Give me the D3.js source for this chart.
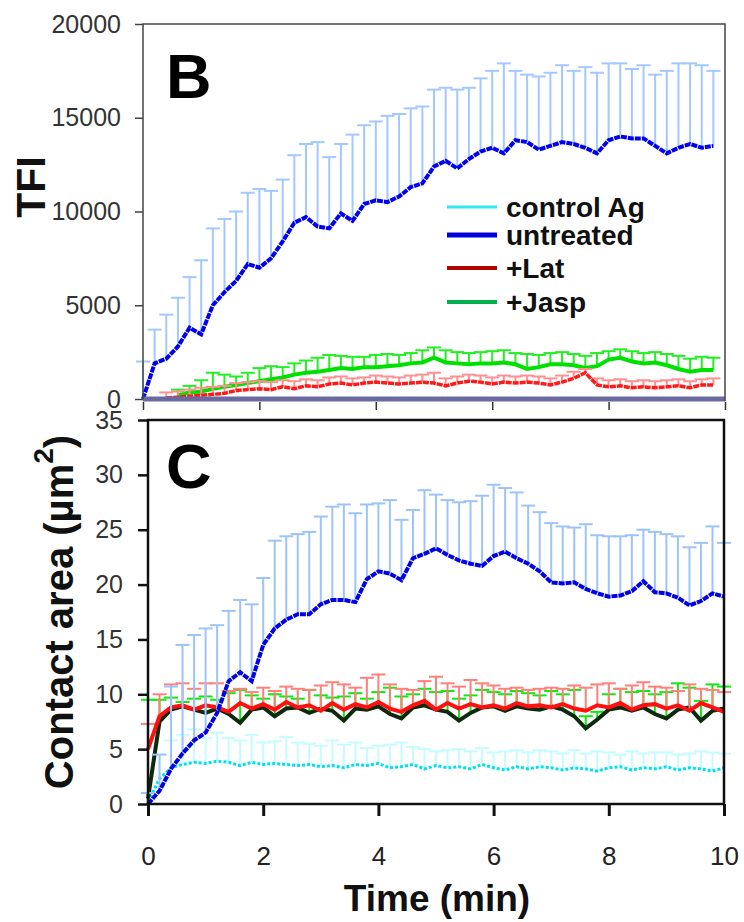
<!DOCTYPE html>
<html>
<head>
<meta charset="utf-8">
<script src="https://cdn.jsdelivr.net/npm/d3@7"></script>
<style>
body { margin: 0; background: #fff; }
text { font-family: "Liberation Sans", Arial, sans-serif; }
</style>
</head>
<body>
<script>
// time points (min), every 0.2 min
const times = [0, 0.2, 0.4, 0.6, 0.8, 1.0, 1.2, 1.4, 1.6, 1.8, 2.0, 2.2, 2.4, 2.6, 2.8, 3.0, 3.2, 3.4, 3.6, 3.8,
    4.0, 4.2, 4.4, 4.6, 4.8, 5.0, 5.2, 5.4, 5.6, 5.8, 6.0, 6.2, 6.4, 6.6, 6.8, 7.0, 7.2, 7.4, 7.6, 7.8,
    8.0, 8.2, 8.4, 8.6, 8.8, 9.0, 9.2, 9.4, 9.6, 9.8, 10.0]
const xTicks = [0, 2, 4, 6, 8, 10]
const tfiTicks = [0, 5000, 10000, 15000, 20000]
const areaTicks = [0, 5, 10, 15, 20, 25, 30, 35]
const legendNames = ["control Ag", "untreated", "+Lat", "+Jasp"]

// panel B : TFI (mean and mean + SD)
const tfiUntreated = [0, 1900, 2150, 2800, 3800, 3450, 5000, 5700, 6300, 7200, 7000, 7500, 8400, 9400, 9700, 9200, 9100, 9900, 9500, 10400,
    10600, 10500, 10800, 11300, 11500, 12400, 12700, 12300, 12800, 13200, 13400, 13100, 13800, 13700, 13300, 13500, 13700, 13600, 13400, 13100,
    13800, 14000, 13900, 13900, 13500, 13100, 13400, 13600, 13400, 13500]
const tfiUntreatedUp = [2000, 3700, 4500, 5400, 6500, 7400, 9100, 9600, 10000, 11000, 11200, 11100, 11700, 13000, 13600, 13700, 12900, 13600, 14100, 14600,
    14800, 15100, 15200, 15500, 15600, 16500, 16600, 16500, 16600, 17100, 17500, 17900, 17500, 17300, 17200, 17400, 17800, 17500, 17700, 17400,
    17900, 17900, 17600, 17800, 17300, 17500, 17900, 17900, 17800, 17500]
const tfiJasp = [null, null, null, 200, 350, 400, 550, 650, 750, 850, 950, 1050, 1150, 1300, 1400, 1450, 1550, 1650, 1600, 1700,
    1700, 1750, 1800, 1900, 1950, 2200, 1950, 1900, 1850, 1900, 1900, 1950, 1850, 1600, 1700, 1850, 1850, 1800, 1650, 1750,
    2100, 2200, 2000, 1900, 1950, 1800, 1600, 1450, 1550, 1550]
const tfiJaspUp = [null, null, null, 500, 700, 1000, 1400, 1300, 1200, 1400, 1650, 1750, 1700, 1900, 2050, 2200, 2350, 2300, 2250, 2250,
    2350, 2400, 2350, 2450, 2600, 2750, 2600, 2500, 2450, 2500, 2550, 2600, 2450, 2400, 2350, 2450, 2500, 2400, 2300, 2450,
    2550, 2650, 2550, 2450, 2500, 2400, 2300, 2150, 2250, 2200]
const tfiLat = [null, null, 50, 100, 150, 200, 250, 300, 450, 500, 550, 500, 650, 550, 700, 650, 800, 850, 750, 850,
    900, 850, 800, 850, 900, 850, 700, 850, 950, 900, 800, 900, 850, 900, 850, 750, 900, 1100, 1400, 750,
    650, 700, 600, 650, 600, 650, 700, 600, 750, 750]
const tfiLatUp = [null, null, 350, 400, 500, 600, 650, 700, 850, 900, 950, 900, 1000, 950, 1050, 1000, 1150, 1200, 1100, 1150,
    1250, 1200, 1150, 1250, 1300, 1400, 1100, 1200, 1300, 1250, 1150, 1250, 1200, 1250, 1200, 1100, 1250, 1450, 1600, 1100,
    1000, 1050, 950, 1000, 950, 1000, 1050, 950, 1050, 1100]
const tfiControl = [0, 0, 0, 0, 0, 0, 0, 0, 0, 0, 0, 0, 0, 0, 0, 0, 0, 0, 0, 0, 0, 0, 0, 0, 0, 0,
    0, 0, 0, 0, 0, 0, 0, 0, 0, 0, 0, 0, 0, 0, 0, 0, 0, 0, 0, 0, 0, 0, 0, 0, 0]

// panel C : contact area (mean and mean + SD)
const areaUntreated = [0, 1.2, 3.2, 4.6, 5.8, 6.5, 8.3, 11.2, 12.0, 11.2, 14.5, 16.0, 16.8, 17.3, 17.3, 18.2, 18.6, 18.6, 18.4, 20.5,
    21.2, 21.0, 20.4, 22.4, 22.8, 23.3, 22.7, 22.2, 21.9, 21.7, 22.6, 23.0, 22.4, 21.9, 21.2, 20.2, 20.1, 20.2, 19.6, 19.2,
    18.9, 19.0, 19.4, 20.3, 19.3, 19.2, 18.8, 18.1, 18.5, 19.2, 18.9]
const areaUntreatedUp = [1.0, 4.5, 10.7, 14.5, 15.4, 16.0, 16.3, 17.6, 18.6, 18.2, 20.6, 24.0, 24.4, 24.6, 24.8, 26.2, 27.1, 27.3, 26.5, 27.3,
    27.4, 27.7, 25.9, 26.8, 28.6, 28.2, 27.7, 27.5, 27.6, 28.1, 29.1, 28.8, 28.4, 27.2, 26.6, 25.6, 25.3, 25.2, 25.5, 24.5,
    24.4, 24.4, 24.5, 25.0, 24.8, 24.6, 24.4, 23.4, 23.8, 25.3, 23.8]
const areaLat = [5.0, 8.0, 8.8, 9.0, 8.6, 9.0, 8.8, 8.4, 9.2, 8.7, 9.1, 8.6, 9.3, 8.8, 9.0, 8.5, 9.2, 8.6, 9.1, 8.8,
    9.3, 8.7, 8.4, 9.0, 9.4, 8.6, 9.2, 8.7, 9.1, 8.8, 9.0, 8.7, 9.2, 8.9, 9.0, 8.8, 9.1, 8.7, 8.5, 9.0,
    8.8, 9.2, 8.6, 9.0, 9.1, 8.7, 9.0, 8.5, 9.2, 8.8, 8.4]
const areaLatUp = [7.3, 10.0, 10.9, 11.0, 10.5, 11.0, 11.0, 10.3, 10.5, 10.2, 10.6, 10.3, 10.7, 10.5, 10.4, 10.8, 11.1, 10.9, 10.6, 11.5,
    11.8, 10.9, 10.5, 10.4, 11.2, 11.6, 11.0, 10.7, 11.3, 11.0, 10.8, 10.5, 10.6, 10.4, 10.5, 10.6, 10.5, 10.8, 10.6, 10.9,
    11.0, 10.5, 10.8, 11.1, 10.7, 10.6, 10.3, 10.9, 10.5, 10.4, 10.2]
const areaJasp = [0.5, 7.5, 8.6, 8.9, 8.6, 8.3, 8.7, 8.2, 7.4, 8.6, 8.8, 8.0, 8.7, 8.8, 8.3, 8.7, 8.5, 7.6, 8.7, 8.6,
    8.9, 8.2, 7.8, 8.8, 9.0, 8.6, 8.4, 7.6, 8.3, 8.8, 8.9, 8.5, 8.9, 8.7, 8.6, 8.9, 8.6, 8.0, 6.9, 7.7,
    8.6, 8.8, 8.5, 8.8, 8.2, 7.8, 8.6, 8.8, 7.6, 8.5, 8.7]
const areaJaspUp = [9.5, 9.5, 9.7, 9.3, 9.6, 9.8, 9.5, 10.1, 10.4, 9.9, 9.6, 10.0, 9.8, 9.6, 10.4, 9.9, 9.7, 9.8, 10.1, 9.6,
    10.2, 10.6, 9.8, 10.0, 10.5, 10.2, 10.3, 9.6, 9.9, 10.4, 10.2, 10.0, 10.3, 10.1, 9.9, 10.3, 10.0, 10.4, 8.0, 8.4,
    10.0, 10.5, 10.2, 10.3, 10.0, 10.2, 11.0, 10.6, 9.4, 10.9, 10.7]
const areaControl = [0.2, 2.3, 3.3, 3.6, 3.8, 3.7, 3.9, 3.8, 3.5, 3.8, 3.6, 3.7, 3.6, 3.5, 3.6, 3.4, 3.5, 3.3, 3.6, 3.5,
    3.7, 3.3, 3.4, 3.6, 3.2, 3.5, 3.3, 3.4, 3.2, 3.6, 3.3, 3.1, 3.4, 3.2, 3.4, 3.3, 3.1, 3.3, 3.2, 3.0,
    3.3, 3.4, 3.1, 3.3, 3.2, 3.4, 3.1, 3.3, 3.2, 3.0, 3.3]
const areaControlUp = [1.0, 4.5, 5.8, 6.3, 6.8, 6.0, 6.5, 6.0, 5.8, 6.3, 5.6, 5.7, 6.1, 5.6, 5.5, 5.3, 5.8, 5.4, 5.6, 5.1,
    5.3, 5.4, 5.6, 5.2, 5.0, 4.8, 4.9, 5.0, 4.8, 5.1, 4.7, 4.8, 4.9, 4.7, 4.9, 4.8, 4.6, 4.9, 4.6, 4.8,
    4.7, 4.5, 4.8, 4.6, 4.7, 4.7, 4.5, 4.6, 4.8, 4.7, 4.6]

const W = 744, H = 922
const svg = d3.select("body").append("svg")
    .attr("width", W)
    .attr("height", H)

// scales
const xB = d3.scaleLinear().domain([0, 10]).range([143, 725])
const yB = d3.scaleLinear().domain([0, 20000]).range([399, 24])
const xC = d3.scaleLinear().domain([0, 10]).range([148, 724])
const yC = d3.scaleLinear().domain([0, 35]).range([804, 420])

function pairs(mean, up) {
    return times.map((t, i) => ({t: t, m: mean[i], u: up ? up[i] : null}))
        .filter((d, i) => i < mean.length)
}

function drawBars(g, x, y, mean, up, color, cap) {
    const data = pairs(mean, up).filter(d => d.m != null && d.u != null)
    g.append("g").selectAll("line.stem")
        .data(data).enter().append("line")
        .attr("x1", d => x(d.t)).attr("x2", d => x(d.t))
        .attr("y1", d => y(d.m)).attr("y2", d => y(d.u))
        .attr("stroke", color).attr("stroke-width", 2)
    g.append("g").selectAll("line.cap")
        .data(data).enter().append("line")
        .attr("x1", d => x(d.t) - cap).attr("x2", d => x(d.t) + cap)
        .attr("y1", d => y(d.u)).attr("y2", d => y(d.u))
        .attr("stroke", color).attr("stroke-width", 2)
}

function drawMean(g, x, y, mean, color, width, dash) {
    const line = d3.line()
        .defined(d => d.m != null)
        .x(d => x(d.t)).y(d => y(d.m))
    g.append("path")
        .datum(pairs(mean))
        .attr("d", line)
        .attr("fill", "none")
        .attr("stroke", color)
        .attr("stroke-width", width)
        .attr("stroke-dasharray", dash)
}

// ---------- panel B ----------
const gB = svg.append("g")
drawBars(gB, xB, yB, tfiUntreated, tfiUntreatedUp, "#a3c8ff", 7)
drawMean(gB, xB, yB, tfiUntreated, "#0000ee", 4, "6,1")
drawBars(gB, xB, yB, tfiJasp, tfiJaspUp, "#22f022", 7)
drawMean(gB, xB, yB, tfiJasp, "#00e000", 4, null)
drawBars(gB, xB, yB, tfiLat, tfiLatUp, "#ff9090", 7)
drawMean(gB, xB, yB, tfiLat, "#ff1a1a", 3.5, "6,1")
drawMean(gB, xB, yB, tfiControl.slice(0, 51), "#6a6aa0", 5, null)

// frame B
gB.append("path")
    .attr("d", `M${xB(0)},${yB(0)}V${yB(20000)}H${xB(10)}V${yB(0) + 2}`)
    .attr("fill", "none").attr("stroke", "#444").attr("stroke-width", 1.5)

const yAxisB = d3.axisLeft(yB).tickValues(tfiTicks).tickSize(8).tickPadding(14)
    .tickFormat(d => d)
gB.append("g").attr("transform", `translate(${xB(0)},0)`).call(yAxisB)
    .call(a => a.select(".domain").remove())
    .call(a => a.selectAll("line").attr("stroke", "#444").attr("stroke-width", 1.5))
    .call(a => a.selectAll("text").attr("font-size", 25).attr("fill", "#333")
        .attr("font-family", "Liberation Sans, Arial, sans-serif"))

const xAxisB = d3.axisBottom(xB).tickValues(xTicks).tickSize(8).tickFormat("")
gB.append("g").attr("transform", `translate(0,${yB(0) + 3})`).call(xAxisB)
    .call(a => a.select(".domain").remove())
    .call(a => a.selectAll("line").attr("stroke", "#333").attr("stroke-width", 1.5))

gB.append("text")
    .attr("transform", "translate(45,187) rotate(-90)")
    .attr("text-anchor", "middle")
    .attr("font-size", 41).attr("font-weight", "bold").attr("fill", "#111")
    .text("TFI")
gB.append("text").attr("x", 166).attr("y", 98)
    .attr("font-size", 63).attr("font-weight", "bold").attr("fill", "#000")
    .text("B")

// legend
const legendColors = ["#33e8f0", "#0000dd", "#b00000", "#00b050"]
const legendWidths = [3, 5, 4, 4]
const legendY = [207, 235, 268, 302]
const leg = gB.append("g")
leg.selectAll("line").data(legendNames).enter().append("line")
    .attr("x1", 447).attr("x2", 497)
    .attr("y1", (d, i) => legendY[i]).attr("y2", (d, i) => legendY[i])
    .attr("stroke", (d, i) => legendColors[i])
    .attr("stroke-width", (d, i) => legendWidths[i])
leg.selectAll("text").data(legendNames).enter().append("text")
    .attr("x", 506).attr("y", (d, i) => legendY[i])
    .attr("dy", "0.36em")
    .attr("font-size", 28).attr("font-weight", "bold").attr("fill", "#111")
    .text(d => d)

// ---------- panel C ----------
const gC = svg.append("g")
drawBars(gC, xC, yC, areaControl, areaControlUp, "#c4fcff", 7)
drawMean(gC, xC, yC, areaControl, "#00e0f0", 3, "3,2")
drawBars(gC, xC, yC, areaJasp, areaJaspUp, "#10e810", 7)
drawMean(gC, xC, yC, areaJasp, "#0d2a0d", 4, null)
drawBars(gC, xC, yC, areaLat, areaLatUp, "#ff8078", 7)
drawMean(gC, xC, yC, areaLat, "#ff1010", 4, null)
drawBars(gC, xC, yC, areaUntreated, areaUntreatedUp, "#9cc4fa", 7)
drawMean(gC, xC, yC, areaUntreated, "#0000e6", 4, "6,1")

// frame C
gC.append("rect")
    .attr("x", xC(0)).attr("y", yC(35))
    .attr("width", xC(10) - xC(0)).attr("height", yC(0) - yC(35))
    .attr("fill", "none").attr("stroke", "#111").attr("stroke-width", 2.5)

const yAxisC = d3.axisLeft(yC).tickValues(areaTicks).tickSize(10).tickPadding(15)
gC.append("g").attr("transform", `translate(${xC(0)},0)`).call(yAxisC)
    .call(a => a.select(".domain").remove())
    .call(a => a.selectAll("line").attr("stroke", "#111").attr("stroke-width", 2.5))
    .call(a => a.selectAll("text").attr("font-size", 25).attr("fill", "#333")
        .attr("font-family", "Liberation Sans, Arial, sans-serif"))

const xAxisC = d3.axisBottom(xC).tickValues(xTicks).tickSize(12).tickPadding(31)
gC.append("g").attr("transform", `translate(0,${yC(0)})`).call(xAxisC)
    .call(a => a.select(".domain").remove())
    .call(a => a.selectAll("line").attr("stroke", "#111").attr("stroke-width", 3))
    .call(a => a.selectAll("text").attr("font-size", 26).attr("fill", "#222")
        .attr("font-family", "Liberation Sans, Arial, sans-serif"))

gC.append("text")
    .attr("x", 437).attr("y", 911)
    .attr("text-anchor", "middle")
    .attr("font-size", 37).attr("font-weight", "bold").attr("fill", "#111")
    .text("Time (min)")

const yLab = gC.append("text")
    .attr("transform", "translate(73,612) rotate(-90)")
    .attr("text-anchor", "middle")
    .attr("font-size", 40).attr("font-weight", "bold").attr("fill", "#111")
yLab.append("tspan").text("Contact area (µm")
yLab.append("tspan").attr("font-size", 28).attr("dy", "-0.7em").text("2")
yLab.append("tspan").attr("dy", "0.48em").text(")")

gC.append("text").attr("x", 166).attr("y", 488)
    .attr("font-size", 63).attr("font-weight", "bold").attr("fill", "#000")
    .text("C")
</script>
</body>
</html>
